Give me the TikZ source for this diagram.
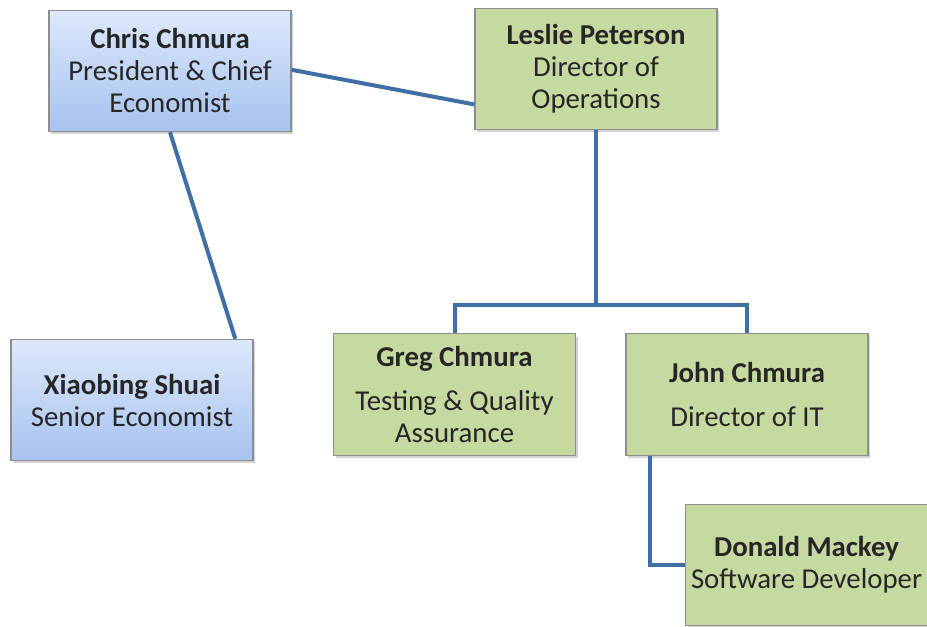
\documentclass[tikz,border=0pt]{standalone}
\usepackage{fontspec}
\setmainfont{Carlito}
\usetikzlibrary{shadows,calc}
\definecolor{linkblue}{HTML}{3F6FA6}
\definecolor{bluetop}{HTML}{DDE8FB}
\definecolor{bluebot}{HTML}{A6C2F0}
\definecolor{greenbox}{HTML}{C6D9A0}
\definecolor{boxedge}{HTML}{8E8E8E}
\definecolor{inktext}{HTML}{262626}
\tikzset{
  person/.style={draw=boxedge, line width=0.8pt, minimum width=181.5pt, minimum height=91pt,
    align=center, inner sep=0pt, text=inktext, font=\fontsize{21.6}{24}\selectfont,
    drop shadow={opacity=0.35, shadow xshift=1.5pt, shadow yshift=-2pt}},
  bluebox/.style={person, top color=bluetop, bottom color=bluebot},
  greenbox/.style={person, fill=greenbox},
  link/.style={draw=linkblue, line width=3pt}
}
\begin{document}
\begin{tikzpicture}[x=0.75pt, y=-0.75pt]
  \useasboundingbox (0,0) rectangle (927,627);

  % staff boxes
  \node[bluebox]  (chris)  at (170,71)    {\textbf{Chris Chmura}\\President \& Chief\\Economist};
  \node[greenbox] (leslie) at (596,69)    {\textbf{Leslie Peterson}\\Director of\\Operations};
  \node[bluebox]  (xiao)   at (132,400)   {\textbf{Xiaobing Shuai}\\Senior Economist};
  \node[greenbox] (greg)   at (454.5,394.5) {\textbf{Greg Chmura}\\[9pt]Testing \& Quality\\Assurance};
  \node[greenbox] (john)   at (747,394.5) {\textbf{John Chmura}\\[9pt]Director of IT};
  \node[greenbox] (donald) at (806.5,565) {\textbf{Donald Mackey}\\Software Developer};

  % connectors
  \draw[link] ($(chris.north east)!0.49!(chris.south east)$) -- ($(leslie.north west)!0.79!(leslie.south west)$);
  \draw[link] ($(chris.south west)!0.5!(chris.south east)$) -- ($(xiao.north west)!0.925!(xiao.north east)$);
  \coordinate (bus) at (596,305);
  \draw[link] (leslie.south) -- (bus);
  \draw[link] (greg.north) |- (bus) -| (john.north);
  \draw[link] ($(john.south west)+(25,0)$) |- (donald.west);
\end{tikzpicture}
\end{document}
